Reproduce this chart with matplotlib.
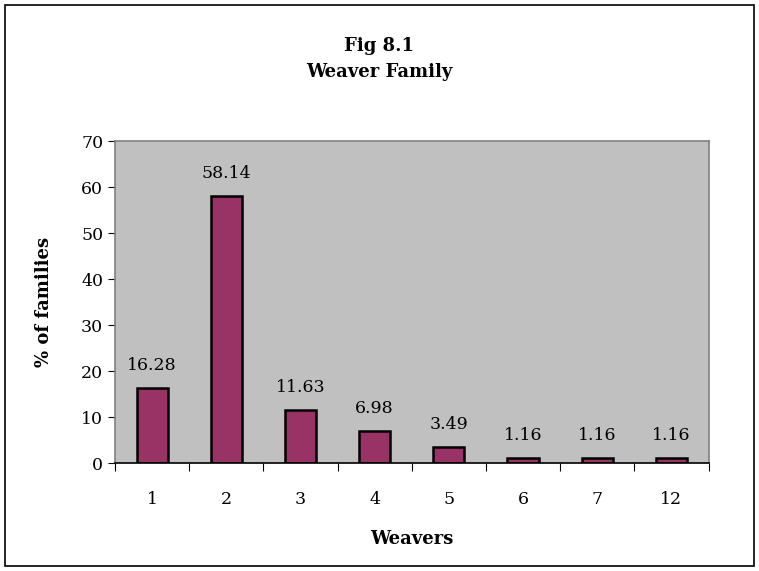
import numpy as np
import matplotlib.pyplot as plt
from matplotlib.patches import Rectangle

weavers = ['1', '2', '3', '4', '5', '6', '7', '12']
pct_families = [16.28, 58.14, 11.63, 6.98, 3.49, 1.16, 1.16, 1.16]

plt.rcParams['font.family'] = ['DejaVu Serif']

fig = plt.figure(figsize=(7.59, 5.71), dpi=100)
fig.patches.append(Rectangle((0.007, 0.009), 0.986, 0.983, transform=fig.transFigure,
                             fill=False, edgecolor='black', linewidth=1.2))

ax = fig.add_axes([0.1515, 0.189, 0.782, 0.564])
ax.set_facecolor('#C0C0C0')
for s in ax.spines.values():
    s.set_color('#808080')
    s.set_linewidth(1.2)
ax.spines['bottom'].set_color('black')

x = np.arange(len(weavers))
ax.bar(x, pct_families, width=0.42, color='#993366', edgecolor='black', linewidth=1.8)

for xi, v in zip(x, pct_families):
    ax.text(xi, v + 3, f'{v:.2f}', ha='center', va='bottom', fontsize=12.5)

ax.set_xlim(-0.5, len(weavers) - 0.5)
ax.set_ylim(0, 70)
ax.set_yticks(range(0, 71, 10))
ax.tick_params(axis='y', labelsize=12.5, length=5, direction='out')

ax.set_xticks(np.arange(-0.5, len(weavers), 1))
ax.set_xticklabels([])
ax.tick_params(axis='x', which='major', length=6, direction='out')
ax.set_xticks(x, minor=True)
ax.set_xticklabels(weavers, minor=True)
ax.tick_params(axis='x', which='minor', length=0, labelsize=12.5, pad=20)

ax.set_xlabel('Weavers', fontsize=13, fontweight='bold', labelpad=16)
ax.set_ylabel('% of families', fontsize=13, fontweight='bold', labelpad=20)

fig.text(0.5, 0.897, 'Fig 8.1\nWeaver Family', ha='center', va='center',
         fontsize=13, fontweight='bold', linespacing=1.6)

fig.savefig('out.png', dpi=100)
